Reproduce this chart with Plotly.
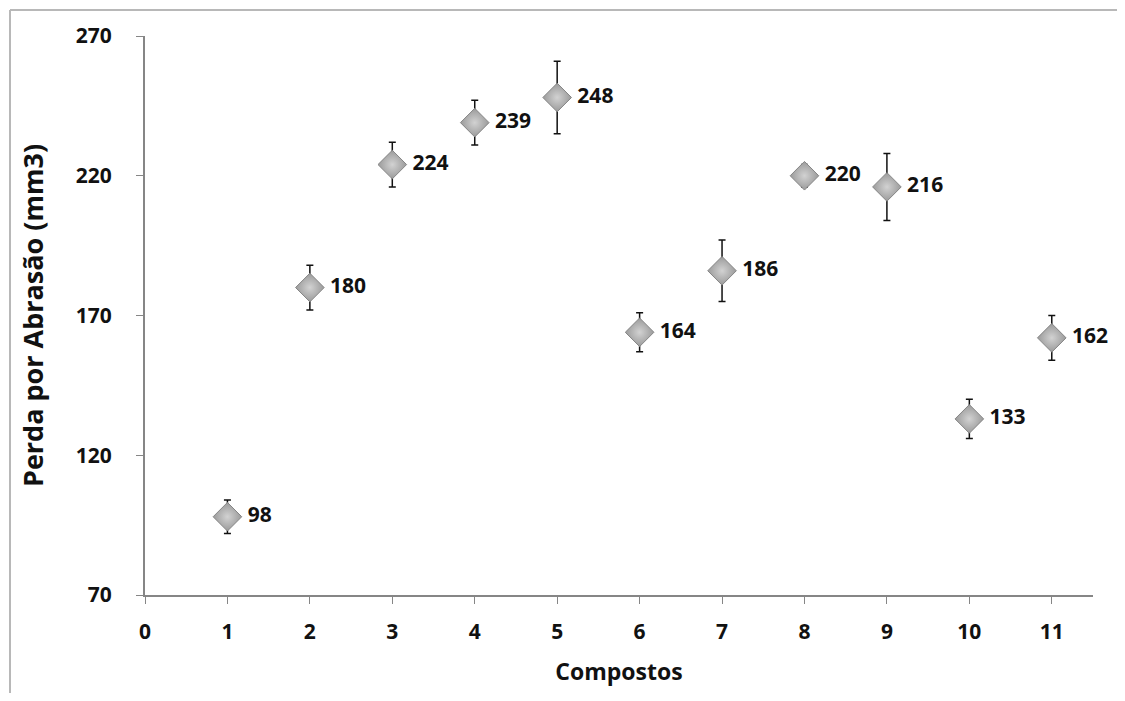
import plotly.graph_objects as go

compostos = [1, 2, 3, 4, 5, 6, 7, 8, 9, 10, 11]
perda = [98, 180, 224, 239, 248, 164, 186, 220, 216, 133, 162]
erro = [6, 8, 8, 8, 13, 7, 11, 4, 12, 7, 8]
x_ticks = list(range(0, 12))
y_ticks = [70, 120, 170, 220, 270]

font_family = "Open Sans, Lato, sans-serif"

fig = go.Figure()
fig.add_trace(go.Scatter(
    x=compostos, y=perda,
    mode="markers+text",
    text=[" " + str(v) for v in perda],
    textposition="middle right",
    textfont=dict(family=font_family, size=21, color="#111111", weight="bold"),
    marker=dict(symbol="diamond", size=22, color="#9a9a9a",
                gradient=dict(type="radial", color="#d2d2d2"),
                line=dict(color="#858585", width=1)),
    error_y=dict(type="data", array=erro, visible=True, color="#111111",
                 thickness=1.5, width=3.5),
    showlegend=False,
    cliponaxis=False,
))

axis_common = dict(showline=True, linecolor="#868686", linewidth=2,
                   ticks="outside", tickcolor="#868686", ticklen=7, tickwidth=1,
                   showgrid=False, zeroline=False,
                   tickfont=dict(family=font_family, size=21, color="#111111", weight="bold"))

fig.update_xaxes(range=[0, 11.5], tickvals=x_ticks, ticklabelstandoff=10,
                 title=dict(text="Compostos", font=dict(family=font_family, size=23, color="#111111", weight="bold"), standoff=20),
                 **axis_common)
fig.update_yaxes(range=[70, 270], tickvals=y_ticks, ticklabelstandoff=20,
                 title=dict(text="Perda por Abrasão (mm3)", font=dict(family=font_family, size=27, color="#111111", weight="bold"), standoff=24),
                 **axis_common)

frame_x0 = -135 / 948
frame_y1 = 1 + 26 / 561
fig.update_layout(
    width=1109, height=685,
    margin=dict(l=137, r=24, t=28, b=96),
    plot_bgcolor="white", paper_bgcolor="white",
    shapes=[
        dict(type="line", xref="paper", yref="paper", x0=frame_x0, x1=1 + 30 / 948,
             y0=frame_y1, y1=frame_y1, line=dict(color="#b8b8b8", width=2), layer="below"),
        dict(type="line", xref="paper", yref="paper", x0=frame_x0, x1=frame_x0,
             y0=-100 / 561, y1=frame_y1, line=dict(color="#b8b8b8", width=2), layer="below"),
    ],
)

fig.write_html("out.html")
